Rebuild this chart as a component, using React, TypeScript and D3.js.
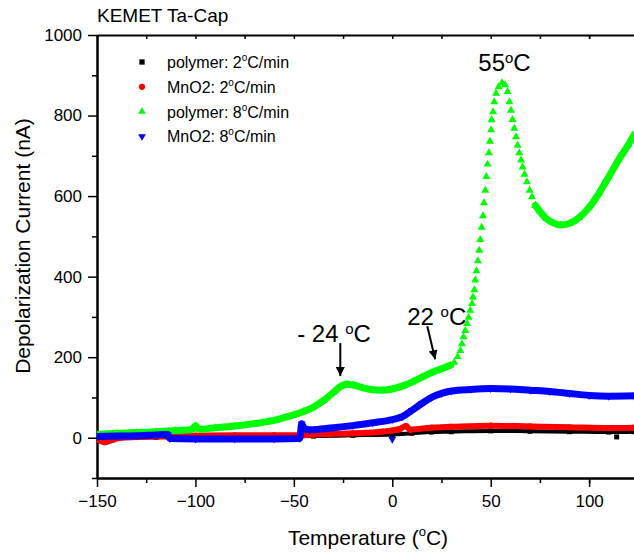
import * as d3 from 'd3'
import { useRef, useEffect } from 'react'

type Pt = [number, number]

// tick values
const xMajor = [-150, -100, -50, 0, 50, 100]
const xMinor = [-125, -75, -25, 25, 75, 100, 125]
const yMajor = [0, 200, 400, 600, 800, 1000]
const yMinor = [-100, 100, 300, 500, 700, 900]

// polymer: 2 C/min (black squares)
const polymer2: Pt[] = [
  [-150, -2], [-147, -7], [-144, -3], [-140, 0], [-120, 1], [-100, 2], [-80, 2], [-60, 3],
  [-40, 4], [-20, 6], [0, 8], [10, 11], [20, 14], [30, 15], [50, 17], [70, 16], [90, 15],
  [110, 14], [122.8, 15],
]
const polymer2Extra: Pt[] = [[-144, -8], [114, 2]]

// MnO2: 2 C/min (red circles)
const mno2_2: Pt[] = [
  [-150, -4], [-146, -11], [-142, -5], [-138, 0], [-120, 3], [-100, 5], [-80, 6], [-60, 6],
  [-46, 6], [-40, 8], [-20, 11], [-5, 15], [0, 18], [4, 22], [7, 29], [9, 20], [20, 25],
  [30, 27], [50, 30], [70, 28], [90, 26], [110, 24], [122.8, 25],
]

// polymer: 8 C/min (green triangles) - dense low part, sparse steep peak, dense tail
const polymer8Low: Pt[] = [
  [-150, 8], [-140, 11], [-130, 13], [-120, 15], [-110, 18], [-102, 20], [-100, 30], [-98, 21],
  [-90, 25], [-80, 29], [-70, 35], [-60, 43], [-50, 57], [-45, 65], [-40, 76], [-35, 92],
  [-30, 112], [-26, 128], [-23, 133], [-20, 131], [-15, 124], [-10, 119], [-5, 118], [0, 121],
  [5, 128], [10, 138], [15, 150], [21, 164], [25, 171], [29.5, 180],
]
const polymer8Peak: Pt[] = [
  [31.5, 187], [33.2, 201], [34.6, 216], [35.4, 233], [36.2, 250], [37.1, 266], [38, 283],
  [38.8, 299], [39.6, 316], [40.5, 333], [41, 349], [41.7, 367], [42.2, 391], [42.8, 414],
  [43.5, 439], [44.2, 465], [44.7, 492], [45.4, 522], [46.1, 551], [46.6, 583], [47.3, 614],
  [47.8, 648], [48.4, 679], [49.1, 707], [49.6, 736], [50.2, 764], [50.5, 789], [51.2, 809],
  [51.8, 834], [52.7, 855], [54, 871], [55.7, 881], [57.4, 876], [58.6, 859], [59.5, 834],
  [60.3, 813], [61.1, 790], [62, 768], [62.9, 747], [63.7, 726], [64.5, 707], [65.4, 689],
  [66.2, 672], [67.2, 654], [68.4, 635], [69.8, 614], [71, 598], [72.7, 577],
]
const polymer8High: Pt[] = [
  [72.7, 577], [75, 562], [78, 545], [82, 533], [85.4, 528], [90, 532], [95, 547], [100, 572],
  [105, 607], [110, 648], [115, 690], [120, 728], [122.8, 752],
]

// MnO2: 8 C/min (blue down triangles)
const mno2_8: Pt[] = [
  [-150, 3], [-140, 4], [-130, 5], [-120, 7], [-114, 8], [-113, -2], [-100, -3], [-80, -3],
  [-60, -3], [-47, -2], [-46, 35], [-45, 24], [-42, 20], [-30, 25], [-20, 30], [-10, 37],
  [0, 45], [5, 52], [10, 68], [15, 85], [20, 100], [25, 110], [30, 116], [40, 120], [50, 122],
  [60, 121], [70, 118], [80, 115], [90, 110], [100, 105], [110, 103], [122.8, 104],
]
const mno2_8Extra: Pt[] = [[0, -4]]

const legendNames = ['polymer: 2', 'MnO2: 2', 'polymer: 8', 'MnO2: 8']
const legendColors = ['#000000', '#ff0000', '#00ff00', '#0000ff']

export default function App() {
  const svgRef = useRef<SVGSVGElement>(null)
  useEffect(() => {
    const svg = d3.select(svgRef.current)
    svg.selectAll('*').remove()
    const font = 'Arial, "Liberation Sans", sans-serif'

    const x = d3.scaleLinear().domain([-150, 122.8]).range([97, 634])
    const y = d3.scaleLinear().domain([-100, 1000]).range([478, 35])

    const defs = svg.append('defs')
    defs.append('clipPath').attr('id', 'plotclip')
      .append('rect').attr('x', 97).attr('y', 35).attr('width', 537).attr('height', 443)
    defs.append('marker')
      .attr('id', 'arrowhead')
      .attr('viewBox', '0 0 10 10')
      .attr('refX', 10).attr('refY', 5)
      .attr('markerUnits', 'userSpaceOnUse')
      .attr('markerWidth', 11).attr('markerHeight', 9)
      .attr('orient', 'auto')
      .append('path').attr('d', 'M0,0L10,5L0,10z').attr('fill', '#000')

    // axes
    const styleAxis = (g: any) => {
      g.selectAll('path.domain').attr('stroke', '#000').attr('stroke-width', 2)
      g.selectAll('.tick line').attr('stroke', '#000').attr('stroke-width', 1.5)
      g.selectAll('.tick text').attr('font-family', font).attr('font-size', 17).attr('fill', '#000')
    }
    const xm = xMinor.filter(v => v < 122.8)
    svg.append('g').attr('transform', 'translate(0,478)')
      .call(d3.axisBottom(x).tickValues(xm).tickSize(5).tickSizeOuter(0).tickFormat(() => ''))
      .call(styleAxis)
    svg.append('g').attr('transform', 'translate(0,478)')
      .call(d3.axisBottom(x).tickValues(xMajor).tickSize(9).tickSizeOuter(0).tickPadding(8).tickFormat(d3.format('d')))
      .call(styleAxis)
    svg.append('g').attr('transform', 'translate(0,35)')
      .call(d3.axisTop(x).tickValues(xMajor.concat(xm)).tickSize(-4).tickSizeOuter(0).tickFormat(() => ''))
      .call(styleAxis)
    svg.append('g').attr('transform', 'translate(97,0)')
      .call(d3.axisLeft(y).tickValues(yMinor).tickSize(5).tickSizeOuter(0).tickFormat(() => ''))
      .call(styleAxis)
    svg.append('g').attr('transform', 'translate(97,0)')
      .call(d3.axisLeft(y).tickValues(yMajor).tickSize(9).tickSizeOuter(0).tickPadding(6).tickFormat(d3.format('d')))
      .call(styleAxis)

    // data
    const plot = svg.append('g').attr('clip-path', 'url(#plotclip)')
    const line = d3.line<Pt>().x(d => x(d[0])).y(d => y(d[1])).curve(d3.curveMonotoneX)
    const band = (data: Pt[], color: string, w: number) => {
      plot.append('path').attr('d', line(data) as string)
        .attr('fill', 'none').attr('stroke', color).attr('stroke-width', w)
        .attr('stroke-linejoin', 'round').attr('stroke-linecap', 'round')
    }
    const marks = (data: Pt[], color: string, type: any, size: number, rot = 0) => {
      const sym = d3.symbol().type(type).size(size)
      plot.append('g').selectAll('path').data(data).join('path')
        .attr('d', sym() as string)
        .attr('transform', d => `translate(${x(d[0])},${y(d[1])}) rotate(${rot})`)
        .attr('fill', color)
    }

    band(polymer2, '#000', 4)
    marks(polymer2, '#000', d3.symbolSquare, 25)
    marks(polymer2Extra, '#000', d3.symbolSquare, 25)
    band(mno2_2, '#ff0000', 6)
    marks(mno2_2, '#ff0000', d3.symbolCircle, 30)
    band(polymer8Low, '#00ff00', 7)
    marks(polymer8Low, '#00ff00', d3.symbolTriangle, 26)
    marks(polymer8Peak, '#00ff00', d3.symbolTriangle, 28)
    band(polymer8High, '#00ff00', 7)
    marks(polymer8High, '#00ff00', d3.symbolTriangle, 26)
    band(mno2_8, '#0000ff', 7)
    marks(mno2_8, '#0000ff', d3.symbolTriangle, 26, 180)
    marks(mno2_8Extra, '#0000ff', d3.symbolTriangle, 26, 180)

    // legend
    const legTypes = [d3.symbolSquare, d3.symbolCircle, d3.symbolTriangle, d3.symbolTriangle]
    const legRot = [0, 0, 0, 180]
    const legSize = [28, 30, 26, 26]
    legendNames.forEach((name, i) => {
      const cy = 62 + i * 24.8
      svg.append('path')
        .attr('d', d3.symbol().type(legTypes[i]).size(legSize[i])() as string)
        .attr('transform', `translate(142,${cy}) rotate(${legRot[i]})`)
        .attr('fill', legendColors[i])
      const t = svg.append('text').attr('x', 167).attr('y', cy + 6)
        .attr('font-family', font).attr('font-size', 16).attr('fill', '#000')
      t.append('tspan').text(name)
      t.append('tspan').attr('font-size', 10).attr('dy', -7).text('o')
      t.append('tspan').attr('dy', 7).text('C/min')
    })

    // title and axis labels
    svg.append('text').attr('x', 97).attr('y', 22)
      .attr('font-family', font).attr('font-size', 19).attr('fill', '#000')
      .text('KEMET Ta-Cap')
    svg.append('text').attr('transform', 'translate(30,246) rotate(-90)')
      .attr('text-anchor', 'middle')
      .attr('font-family', font).attr('font-size', 21).attr('fill', '#000')
      .text('Depolarization Current (nA)')
    const xl = svg.append('text').attr('x', 368).attr('y', 545)
      .attr('text-anchor', 'middle')
      .attr('font-family', font).attr('font-size', 21).attr('fill', '#000')
    xl.append('tspan').text('Temperature (')
    xl.append('tspan').attr('font-size', 13).attr('dy', -9).text('o')
    xl.append('tspan').attr('dy', 9).text('C)')

    // annotations (data coordinates)
    const annot = (tx: number, ty: number, pre: string) => {
      const t = svg.append('text').attr('x', x(tx)).attr('y', y(ty))
        .attr('font-family', font).attr('font-size', 24).attr('fill', '#000')
      t.append('tspan').text(pre)
      t.append('tspan').attr('font-size', 15).attr('dy', -8).text('o')
      t.append('tspan').attr('dy', 8).text('C')
    }
    annot(43.7, 910, '55')
    annot(-48.3, 238, '- 24 ')
    annot(7.6, 280, '22 ')
    const arrow = (x1: number, y1: number, x2: number, y2: number) => {
      svg.append('line').attr('x1', x(x1)).attr('y1', y(y1)).attr('x2', x(x2)).attr('y2', y(y2))
        .attr('stroke', '#000').attr('stroke-width', 2).attr('marker-end', 'url(#arrowhead)')
    }
    arrow(-26.4, 235, -26.4, 153)
    arrow(17.8, 277, 21.8, 195)
  }, [])

  return (
    <svg ref={svgRef} width={634} height={552}
      style={{ position: 'absolute', left: 0, top: 0, background: '#fff' }} />
  )
}
